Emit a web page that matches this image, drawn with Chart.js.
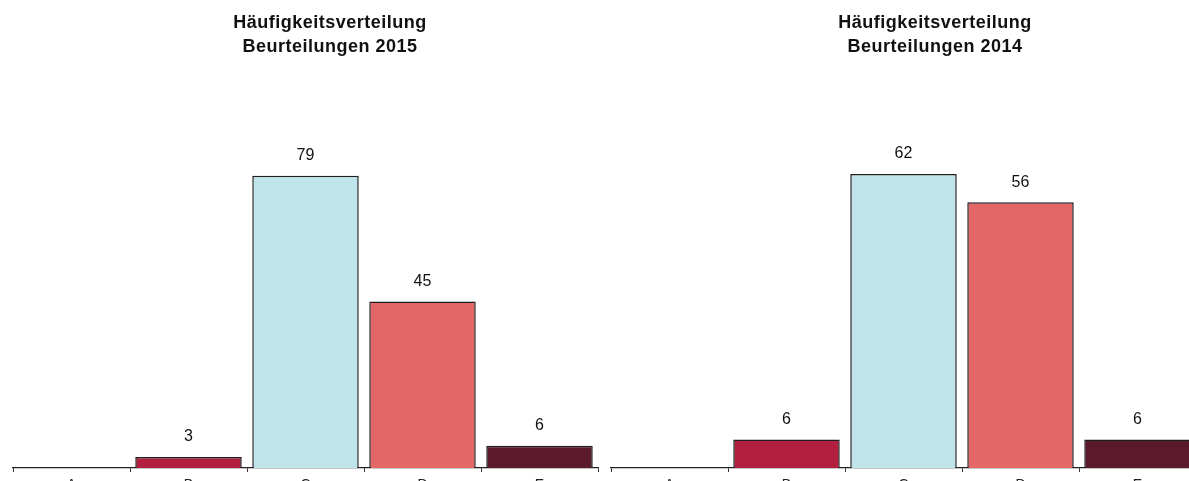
<!DOCTYPE html>
<html>
<head>
<meta charset="utf-8">
<script src="https://cdn.jsdelivr.net/npm/chart.js@4.4.1/dist/chart.umd.min.js"></script>
<style>
  html, body { margin: 0; padding: 0; background: #fff; overflow: hidden; width: 1189px; height: 481px; }
  .wrap { position: absolute; top: 0; height: 500px; }
  #w1 { left: 0; width: 660px; }
  #w2 { left: 610px; width: 650px; }
</style>
</head>
<body>
<div class="wrap" id="w1"><canvas id="c1"></canvas></div>
<div class="wrap" id="w2"><canvas id="c2"></canvas></div>
<script>
const categories = ['A', 'B', 'C', 'D', 'E'];
const values2015 = [0, 3, 79, 45, 6];
const values2014 = [0, 6, 62, 56, 6];
const title2015 = ['Häufigkeitsverteilung', 'Beurteilungen 2015'];
const title2014 = ['Häufigkeitsverteilung', 'Beurteilungen 2014'];
const barColors = ['#b3203f', '#b3203f', '#bfe5eb', '#e46767', '#5a1a2c'];

const FONT = '"Liberation Sans", Arial, sans-serif';

const titlePlugin = {
  id: 'customTitle',
  afterDraw(chart, args, opts) {
    const ctx = chart.ctx;
    ctx.save();
    ctx.font = 'bold 18px ' + FONT;
    try { ctx.letterSpacing = '0.5px'; } catch (e) {}
    ctx.fillStyle = '#111';
    ctx.textAlign = 'center';
    ctx.textBaseline = 'middle';
    opts.lines.forEach((t, i) => ctx.fillText(t, opts.x, 23 + i * 24));
    ctx.restore();
  }
};

const valueLabels = {
  id: 'valueLabels',
  afterDatasetsDraw(chart) {
    const ctx = chart.ctx;
    const meta = chart.getDatasetMeta(0);
    const data = chart.data.datasets[0].data;
    ctx.save();
    ctx.font = '16px ' + FONT;
    ctx.fillStyle = '#111';
    ctx.textAlign = 'center';
    ctx.textBaseline = 'middle';
    meta.data.forEach((bar, i) => {
      if (!data[i]) return;
      ctx.fillText(String(data[i]), bar.x, bar.y - 20);
    });
    ctx.restore();
  }
};

function makeChart(id, values, yMax, padL, padR, titleLines, titleX) {
  return new Chart(document.getElementById(id), {
    type: 'bar',
    data: {
      labels: categories,
      datasets: [{
        data: values,
        backgroundColor: barColors,
        borderColor: '#1e1e1e',
        borderWidth: 1.5,
        borderSkipped: 'bottom',
        barPercentage: 0.91,
        categoryPercentage: 1
      }]
    },
    options: {
      responsive: true,
      maintainAspectRatio: false,
      animation: false,
      layout: { padding: { left: padL, right: padR, top: 98, bottom: 0 } },
      plugins: {
        legend: { display: false },
        tooltip: { enabled: false },
        title: { display: false },
        customTitle: { lines: titleLines, x: titleX }
      },
      scales: {
        x: {
          grid: { display: true, drawOnChartArea: false, drawTicks: true, tickLength: 4, color: '#333', offset: true },
          border: { display: true, color: '#222', width: 1.3 },
          ticks: { color: '#222', font: { family: FONT, size: 14 }, padding: 5 },
          afterFit(scale) { scale.height = 32; }
        },
        y: {
          display: false,
          min: 0,
          max: yMax
        }
      }
    },
    plugins: [titlePlugin, valueLabels]
  });
}

makeChart('c1', values2015, 100, 13, 62, title2015, 330);
makeChart('c2', values2014, 78, 1, 64, title2014, 325);
</script>
</body>
</html>
